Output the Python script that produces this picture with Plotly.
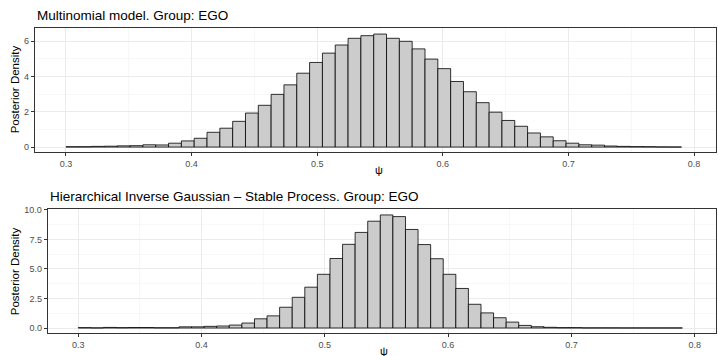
import numpy as np
import plotly.graph_objects as go

# ---- data ----
bin_lo = 0.30
bin_hi = 0.79
n_bins = 48

dens_multinomial = [0.02, 0.02, 0.04, 0.05, 0.07, 0.08, 0.13, 0.12, 0.22, 0.35,
                    0.50, 0.84, 1.07, 1.46, 1.93, 2.37, 2.99, 3.53, 4.19, 4.80,
                    5.33, 5.79, 6.17, 6.32, 6.41, 6.17, 6.00, 5.57, 4.99, 4.45,
                    3.72, 3.14, 2.52, 1.98, 1.51, 1.18, 0.80, 0.58, 0.36, 0.22,
                    0.13, 0.11, 0.06, 0.04, 0.025, 0.02, 0.01, 0.005]

dens_hig = [0.03, 0.01, 0.05, 0.03, 0.04, 0.04, 0.02, 0.02, 0.10, 0.10,
            0.14, 0.17, 0.25, 0.42, 0.78, 1.03, 1.76, 2.60, 3.46, 4.55,
            5.89, 7.09, 8.10, 9.05, 9.58, 9.44, 8.35, 7.07, 5.87, 4.55,
            3.35, 2.01, 1.28, 0.87, 0.50, 0.22, 0.11, 0.06, 0.03, 0.03,
            0.01, 0.01, 0.01, 0.005, 0.005, 0.005, 0.005, 0.005]

title_top = "Multinomial model. Group: EGO"
title_bottom = "Hierarchical Inverse Gaussian \u2013 Stable Process. Group: EGO"
x_label = "\u03c8"
y_label = "Posterior Density"
x_ticks = [0.3, 0.4, 0.5, 0.6, 0.7, 0.8]
y_ticks_top = [0, 2, 4, 6]
y_ticks_bottom = [0, 2.5, 5, 7.5, 10]
y_ticktext_bottom = ["0.0", "2.5", "5.0", "7.5", "10.0"]

# ---- geometry ----
W, H = 718, 356
edges = np.linspace(bin_lo, bin_hi, n_bins + 1)
centers = (edges[:-1] + edges[1:]) / 2
bw = edges[1] - edges[0]

FONT = "Liberation Sans, Arial, Helvetica, sans-serif"
GRID = "#EBEBEB"
BORDER = "#333333"
TICKC = "#4D4D4D"

fig = go.Figure()
fig.add_trace(go.Bar(x=centers, y=dens_multinomial, width=bw,
                     marker=dict(color="#CCCCCC", line=dict(color="black", width=0.8)),
                     xaxis="x", yaxis="y", showlegend=False, hoverinfo="skip"))
fig.add_trace(go.Bar(x=centers, y=dens_hig, width=bw,
                     marker=dict(color="#CCCCCC", line=dict(color="black", width=0.8)),
                     xaxis="x2", yaxis="y2", showlegend=False, hoverinfo="skip"))

def px_x(p):
    return p / W

def px_y(p):
    return (H - p) / H

common_axis = dict(showline=True, mirror=True, linecolor=BORDER, linewidth=1,
                   ticks="outside", ticklen=3, tickcolor=BORDER, tickwidth=1,
                   showgrid=True, gridcolor=GRID, gridwidth=1, zeroline=False,
                   tickfont=dict(family=FONT, size=9, color=TICKC))

fig.update_layout(
    width=W, height=H,
    margin=dict(l=0, r=0, t=0, b=0),
    paper_bgcolor="white", plot_bgcolor="white",
    bargap=0,
    xaxis=dict(domain=[px_x(34.7), px_x(716)], range=[0.2751, 0.8175], anchor="y",
               tickvals=x_ticks, ticktext=[f"{v:.1f}" for v in x_ticks],
               minor=dict(dtick=0.05, tick0=0.25, showgrid=True, gridcolor="#F2F2F2", gridwidth=0.6, ticks=""),
               **common_axis),
    yaxis=dict(domain=[px_y(150), px_y(24.3)], range=[-0.297, 6.753], anchor="x",
               tickvals=y_ticks_top, ticktext=[str(v) for v in y_ticks_top],
               minor=dict(dtick=1, tick0=0, showgrid=True, gridcolor="#F2F2F2", gridwidth=0.6, ticks=""),
               **common_axis),
    xaxis2=dict(domain=[px_x(47.7), px_x(716)], range=[0.2752, 0.8173], anchor="y2",
                tickvals=x_ticks, ticktext=[f"{v:.1f}" for v in x_ticks],
                minor=dict(dtick=0.05, tick0=0.25, showgrid=True, gridcolor="#F2F2F2", gridwidth=0.6, ticks=""),
                **common_axis),
    yaxis2=dict(domain=[px_y(332.7), px_y(207.5)], range=[-0.42, 10.07], anchor="x2",
                tickvals=y_ticks_bottom, ticktext=y_ticktext_bottom,
                minor=dict(dtick=1.25, tick0=0, showgrid=True, gridcolor="#F2F2F2", gridwidth=0.6, ticks=""),
                **common_axis),
)

ann = []
ann.append(dict(text=title_top, x=px_x(34.7), y=px_y(11.3), xref="paper", yref="paper",
                xanchor="left", yanchor="middle", showarrow=False,
                font=dict(family=FONT, size=13.5, color="black")))
ann.append(dict(text=title_bottom, x=px_x(47.7), y=px_y(194.4), xref="paper", yref="paper",
                xanchor="left", yanchor="middle", showarrow=False,
                font=dict(family=FONT, size=13.5, color="black")))
for yc in (86, 270):
    ann.append(dict(text=y_label, x=px_x(15.3), y=px_y(yc), xref="paper", yref="paper",
                    xanchor="center", yanchor="middle", textangle=-90, showarrow=False,
                    font=dict(family=FONT, size=11.5, color="black")))
for xc, yc in ((379, 168.3), (383.5, 350.7)):
    ann.append(dict(text=x_label, x=px_x(xc), y=px_y(yc), xref="paper", yref="paper",
                    xanchor="center", yanchor="middle", showarrow=False,
                    font=dict(family=FONT, size=11, color="black")))
fig.update_layout(annotations=ann)

fig.write_html(
    "out.html",
    config={"displayModeBar": False, "staticPlot": True},
    post_script="document.body.style.margin='0';document.body.style.padding='0';"
                "document.body.style.overflow='hidden';"
                "document.documentElement.style.overflow='hidden';",
)
